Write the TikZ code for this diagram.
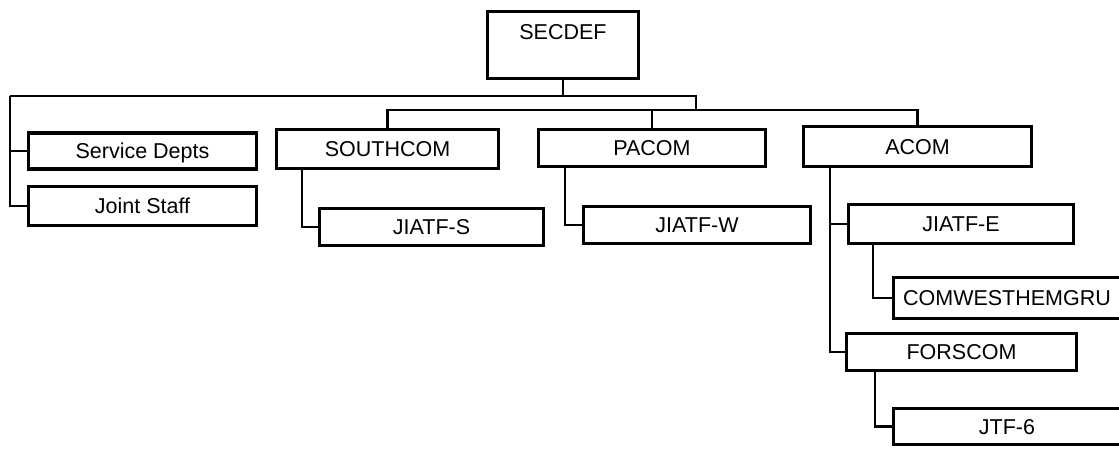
\documentclass[tikz,border=0pt]{standalone}
\usepackage{fontspec}
\setmainfont{Liberation Sans}
\begin{document}
\begin{tikzpicture}[x=1pt,y=-1pt,
  box/.style={draw=black, line width=3.6pt, fill=white, inner sep=0pt,
    minimum width=#1, font=\fontsize{21.5}{24}\selectfont, text height=15.4pt, text depth=0pt},
  link/.style={draw=black, line width=2.9pt, line join=miter}]
\useasboundingbox (0,0) rectangle (1119,448);
\clip (0,0) rectangle (1119,448);
% nodes
\node[box=151, minimum height=67, text depth=27pt] (secdef) at (563,45) {SECDEF};
\node[box=228, minimum height=36] (serv) at (142.5,151) {Service Depts};
\node[box=228, minimum height=39] (joint) at (142.5,206) {Joint Staff};
\node[box=222, minimum height=39] (south) at (387.5,149) {SOUTHCOM};
\node[box=224, minimum height=37] (jiatfs) at (431.5,227) {JIATF-S};
\node[box=227, minimum height=37] (pacom) at (652,148) {PACOM};
\node[box=227, minimum height=37] (jiatfw) at (697,225) {JIATF-W};
\node[box=228, minimum height=40] (acom) at (917.5,146.5) {ACOM};
\node[box=225, minimum height=39] (jiatfe) at (961,224) {JIATF-E};
\node[box=227, minimum height=41] (comwest) at (1007,298) {COMWESTHEMGRU};
\node[box=230, minimum height=37] (forscom) at (961.5,352) {FORSCOM};
\node[box=227, minimum height=36] (jtf) at (1007,426.5) {JTF-6};
% helper coordinates
\coordinate (tl) at (10,96);
\coordinate (tr) at (696,96);
\coordinate (m) at (696,110);
\coordinate (sx) at (302,0);
\coordinate (px) at (565,0);
\coordinate (ax) at (830,0);
\coordinate (ex) at (873,0);
\coordinate (fx) at (875,0);
% connectors
\draw[link] (secdef.south) -- (secdef.south |- tl);
\draw[link] (tl) -- (tr) -- (m);
\draw[link] (south.north) -- (south.north |- m) -- (acom.north |- m) -- (acom.north);
\draw[link] (pacom.north) -- (pacom.north |- m);
\draw[link] (tl) |- (joint.west);
\draw[link] (tl |- serv.west) -- (serv.west);
\draw[link] (south.south -| sx) |- (jiatfs.west);
\draw[link] (pacom.south -| px) |- (jiatfw.west);
\draw[link] (acom.south -| ax) |- (forscom.west);
\draw[link] (jiatfe.west -| ax) -- (jiatfe.west);
\draw[link] (jiatfe.south -| ex) |- (comwest.west);
\draw[link] (forscom.south -| fx) |- (jtf.west);
\end{tikzpicture}
\end{document}
